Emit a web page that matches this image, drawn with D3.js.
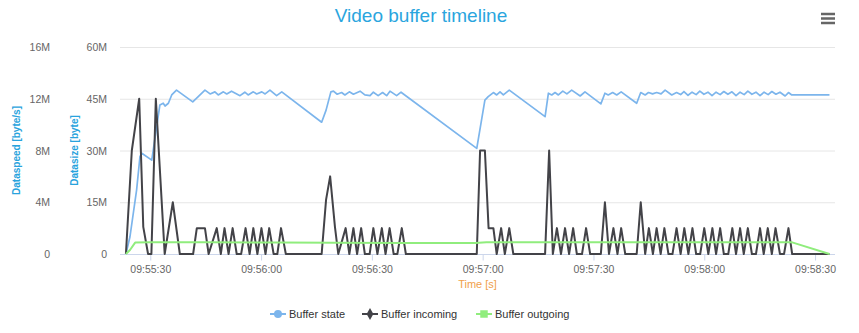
<!DOCTYPE html>
<html>
<head>
<meta charset="utf-8">
<script src="https://cdn.jsdelivr.net/npm/d3@7"></script>
<style>
  body { margin: 0; background: #fff; }
  text { font-family: "Liberation Sans", Arial, sans-serif; }
</style>
</head>
<body>
<svg width="859" height="333"></svg>
<script>
// time in seconds after 09:55:00, values in millions (M)
var bufferState = [
  [23.4,0],[24.5,5.0],[26.3,18.6],[27.2,28.2],[27.7,29.2],[30.4,27.2],[32.6,43.2],[33.5,43.7],[34.0,42.9],[34.9,43.7],
  [35.8,46.1],[37.1,47.5],[41.5,44.1],[44.8,47.5],[46.2,46.4],[47.5,47.0],[48.4,46.1],[49.8,47.0],[50.7,46.4],
  [52.0,47.2],[54.3,45.9],[55.6,46.9],[56.5,46.1],[57.9,47.0],[58.8,46.4],[60.2,47.0],[61.1,46.4],[62.4,47.5],
  [64.2,45.9],[65.6,47.0],[76.4,38.2],[77.6,41.7],[78.9,47.0],[79.6,47.2],[80.6,46.3],[81.8,46.8],[82.7,46.1],
  [83.9,47.0],[85.0,46.3],[86.8,47.2],[88.1,46.1],[89.5,45.9],[90.4,46.9],[91.7,45.9],[92.9,46.8],[94.0,45.9],
  [94.9,47.2],[96.7,45.9],[97.9,46.9],[118.4,30.6],[120.6,44.6],[121.5,45.6],[122.9,46.8],[123.8,46.1],[124.7,47.0],
  [125.6,46.1],[127.2,47.5],[136.9,39.8],[137.8,46.6],[138.7,46.1],[139.6,46.8],[140.5,46.1],[141.7,47.2],
  [142.8,46.4],[144.1,47.5],[146.4,45.8],[147.7,47.0],[152.0,43.5],[153.1,46.6],[154.0,46.1],[155.2,46.8],
  [156.3,46.1],[157.5,47.0],[161.7,43.7],[162.8,46.8],[164.0,46.1],[164.9,46.8],[166.0,46.4],[167.1,46.8],
  [168.3,46.4],[169.4,47.5],[171.2,46.1],[172.5,46.8],[173.6,46.2],[174.5,47.1],[175.6,46.0],[176.7,46.9],
  [177.8,46.2],[178.8,47.2],[179.9,46.3],[181.0,46.9],[182.1,45.9],[183.2,46.9],[184.3,46.2],[185.3,47.1],
  [186.4,46.3],[187.5,47.0],[188.6,45.9],[189.7,46.9],[190.8,46.2],[191.8,47.2],[192.9,46.3],[194.0,46.9],
  [195.1,45.9],[196.2,46.9],[197.3,46.2],[198.3,47.1],[199.4,46.3],[200.5,46.9],[201.9,45.8],[202.8,46.8],
  [203.7,46.1],[213.9,46.1]
];

var bufferIncoming = [
  [23.4,0],[25.0,8],[27.0,12],[28.1,2.1],[29.4,0],[30.3,0],[31.5,12],[33.9,0],[36.1,4],[38.0,0],[41.6,0],
  [42.6,2],[44.8,2],[45.8,0],[48.0,2],[49.1,0],[50.1,2],[51.2,0],[52.3,2],[53.4,0],[54.6,0],[55.8,2],[56.9,0],
  [57.9,2],[59.0,0],[60.1,2],[61.2,0],[62.2,2],[63.4,0],[64.4,0],[65.4,2],[66.7,0],
  [76.4,0],[77.6,4.2],[78.7,6],[80.0,2.1],[80.9,0],[82.9,2],[83.9,0],[85.0,2],[86.0,0],[87.1,2],[88.1,0],
  [89.4,0],[90.4,2],[91.5,0],[92.7,2],[93.7,0],[94.8,2],[95.9,0],[96.9,0],[98.1,2],[99.2,0],
  [118.4,0],[119.3,8],[120.6,8],[121.6,2],[122.9,2],[123.8,0],[125.0,2],[126.0,0],[127.2,2],[128.3,0],
  [136.9,0],[138.0,8],[139.0,0],[140.1,2],[141.2,0],[142.3,2],[143.4,0],[144.5,2],[145.5,0],[146.9,0],
  [148.0,2],[149.1,0],[152.0,0],[153.1,4],[154.2,0],[155.4,2],[156.5,0],[157.5,2],[158.6,0],
  [161.7,0],[162.8,4],[164.0,0],[165.0,2],[166.1,0],[167.1,2],[168.2,0],[169.2,2],[170.3,0],[171.4,0],
  [172.5,2],[173.6,0],[174.6,2],[175.7,0],[176.8,2],[177.8,0],[178.9,0],[180.0,2],[181.1,0],[182.2,2],
  [183.2,0],[184.3,2],[185.3,0],[186.5,0],[187.6,2],[188.6,0],[189.7,2],[190.7,0],[191.8,2],[192.9,0],
  [194.0,0],[195.1,2],[196.1,0],[197.2,2],[198.3,0],[199.3,2],[200.5,0],[201.6,0],[202.8,2],[203.8,0],
  [213.9,0]
];

var bufferOutgoing = [
  [23.4,0],[24.5,0.31],[25.9,0.88],[30,0.91],[45,0.91],[65,0.89],[80,0.86],[100,0.85],[118,0.85],
  [121,0.9],[150,0.91],[180,0.9],[203.8,0.9],[213.9,0]
];

var speedTicks = [0, 4, 8, 12, 16];
var sizeTicks = [0, 15, 30, 45, 60];
var timeTicks = [30, 60, 90, 120, 150, 180, 210];

var seriesNames = ["Buffer state", "Buffer incoming", "Buffer outgoing"];
var seriesColors = ["#7cb5ec", "#434348", "#90ed7d"];

var svg = d3.select("svg"),
    plotLeft = 120, plotRight = 835, plotTop = 47, plotBottom = 254;

var base = new Date(2020, 0, 1, 9, 55, 0);
function toDate(s) { return new Date(base.getTime() + s * 1000); }

var x = d3.scaleTime()
    .domain([toDate(bufferState[0][0] - 1.6), toDate(bufferState[bufferState.length - 1][0] + 1.5)])
    .range([plotLeft, plotRight]);
var ySpeed = d3.scaleLinear().domain([0, 16]).range([plotBottom, plotTop]);
var ySize = d3.scaleLinear().domain([0, 60]).range([plotBottom, plotTop]);

// title and menu
svg.append("text")
    .attr("x", 421).attr("y", 22)
    .attr("text-anchor", "middle")
    .style("font-size", "19px")
    .style("fill", "#2aa5de")
    .text("Video buffer timeline");

svg.append("g").selectAll("line")
    .data([14, 18.5, 23])
    .enter().append("line")
    .attr("x1", 821).attr("x2", 835)
    .attr("y1", function(d) { return d; }).attr("y2", function(d) { return d; })
    .attr("stroke", "#666").attr("stroke-width", 2.5);

// grid
svg.append("g").selectAll("line")
    .data(sizeTicks)
    .enter().append("line")
    .attr("x1", plotLeft).attr("x2", plotRight)
    .attr("y1", function(d) { return ySize(d) + 0.5; })
    .attr("y2", function(d) { return ySize(d) + 0.5; })
    .attr("stroke", "#e6e6e6");

// y axes labels
function fmtM(d) { return d === 0 ? "0" : d + "M"; }

svg.append("g").selectAll("text")
    .data(speedTicks)
    .enter().append("text")
    .attr("x", 50).attr("y", function(d) { return ySpeed(d) + 4; })
    .attr("text-anchor", "end")
    .style("font-size", "10.5px").style("fill", "#666")
    .text(fmtM);

svg.append("g").selectAll("text")
    .data(sizeTicks)
    .enter().append("text")
    .attr("x", 107).attr("y", function(d) { return ySize(d) + 4; })
    .attr("text-anchor", "end")
    .style("font-size", "10.5px").style("fill", "#666")
    .text(fmtM);

svg.append("text")
    .attr("transform", "translate(20," + ((plotTop + plotBottom) / 2) + ") rotate(-90)")
    .attr("text-anchor", "middle")
    .style("font-size", "10px").style("font-weight", "bold").style("fill", "#29a3dd")
    .text("Dataspeed [byte/s]");

svg.append("text")
    .attr("transform", "translate(78," + ((plotTop + plotBottom) / 2) + ") rotate(-90)")
    .attr("text-anchor", "middle")
    .style("font-size", "10px").style("font-weight", "bold").style("fill", "#29a3dd")
    .text("Datasize [byte]");

// x axis
var xAxis = d3.axisBottom(x)
    .tickValues(timeTicks.map(toDate))
    .tickFormat(d3.timeFormat("%H:%M:%S"))
    .tickSize(6)
    .tickPadding(5);

var gx = svg.append("g")
    .attr("transform", "translate(0," + (plotBottom + 0.5) + ")")
    .call(xAxis);
gx.select(".domain").attr("stroke", "#ccd6eb").attr("d", "M" + plotLeft + ",0H" + plotRight);
gx.selectAll(".tick line").attr("stroke", "#ccd6eb");
gx.selectAll(".tick text")
    .style("font-size", "10.5px").style("fill", "#666")
    .style("font-family", "'Liberation Sans', Arial, sans-serif");

svg.append("text")
    .attr("x", (plotLeft + plotRight) / 2).attr("y", 288)
    .attr("text-anchor", "middle")
    .style("font-size", "11px").style("fill", "#f0a04b")
    .text("Time [s]");

// series
var lineSize = d3.line()
    .x(function(d) { return x(toDate(d[0])); })
    .y(function(d) { return ySize(d[1]); });
var lineSpeed = d3.line()
    .x(function(d) { return x(toDate(d[0])); })
    .y(function(d) { return ySpeed(d[1]); });

svg.append("path").datum(bufferState)
    .attr("d", lineSize).attr("fill", "none")
    .attr("stroke", seriesColors[0]).attr("stroke-width", 1.7)
    .attr("stroke-linejoin", "round");
svg.append("path").datum(bufferIncoming)
    .attr("d", lineSpeed).attr("fill", "none")
    .attr("stroke", seriesColors[1]).attr("stroke-width", 2)
    .attr("stroke-linejoin", "round");
svg.append("path").datum(bufferOutgoing)
    .attr("d", lineSpeed).attr("fill", "none")
    .attr("stroke", seriesColors[2]).attr("stroke-width", 2)
    .attr("stroke-linejoin", "round");

// legend
var legendX = [270, 362, 476];
var ly = 314;
var items = svg.append("g").selectAll("g")
    .data(seriesNames)
    .enter().append("g")
    .attr("transform", function(d, i) { return "translate(" + legendX[i] + "," + ly + ")"; });

items.append("line")
    .attr("x1", 0).attr("x2", 16).attr("y1", 0).attr("y2", 0)
    .attr("stroke", function(d, i) { return seriesColors[i]; })
    .attr("stroke-width", 2);

items.append("path")
    .attr("transform", "translate(8,0)")
    .attr("d", function(d, i) {
      var sym = [d3.symbolCircle, d3.symbolDiamond, d3.symbolSquare][i];
      var size = [50, 40, 56][i];
      return d3.symbol().type(sym).size(size)();
    })
    .attr("fill", function(d, i) { return seriesColors[i]; });

items.append("text")
    .attr("x", 19).attr("y", 4)
    .style("font-size", "11px").style("fill", "#333")
    .text(function(d) { return d; });
</script>
</body>
</html>
